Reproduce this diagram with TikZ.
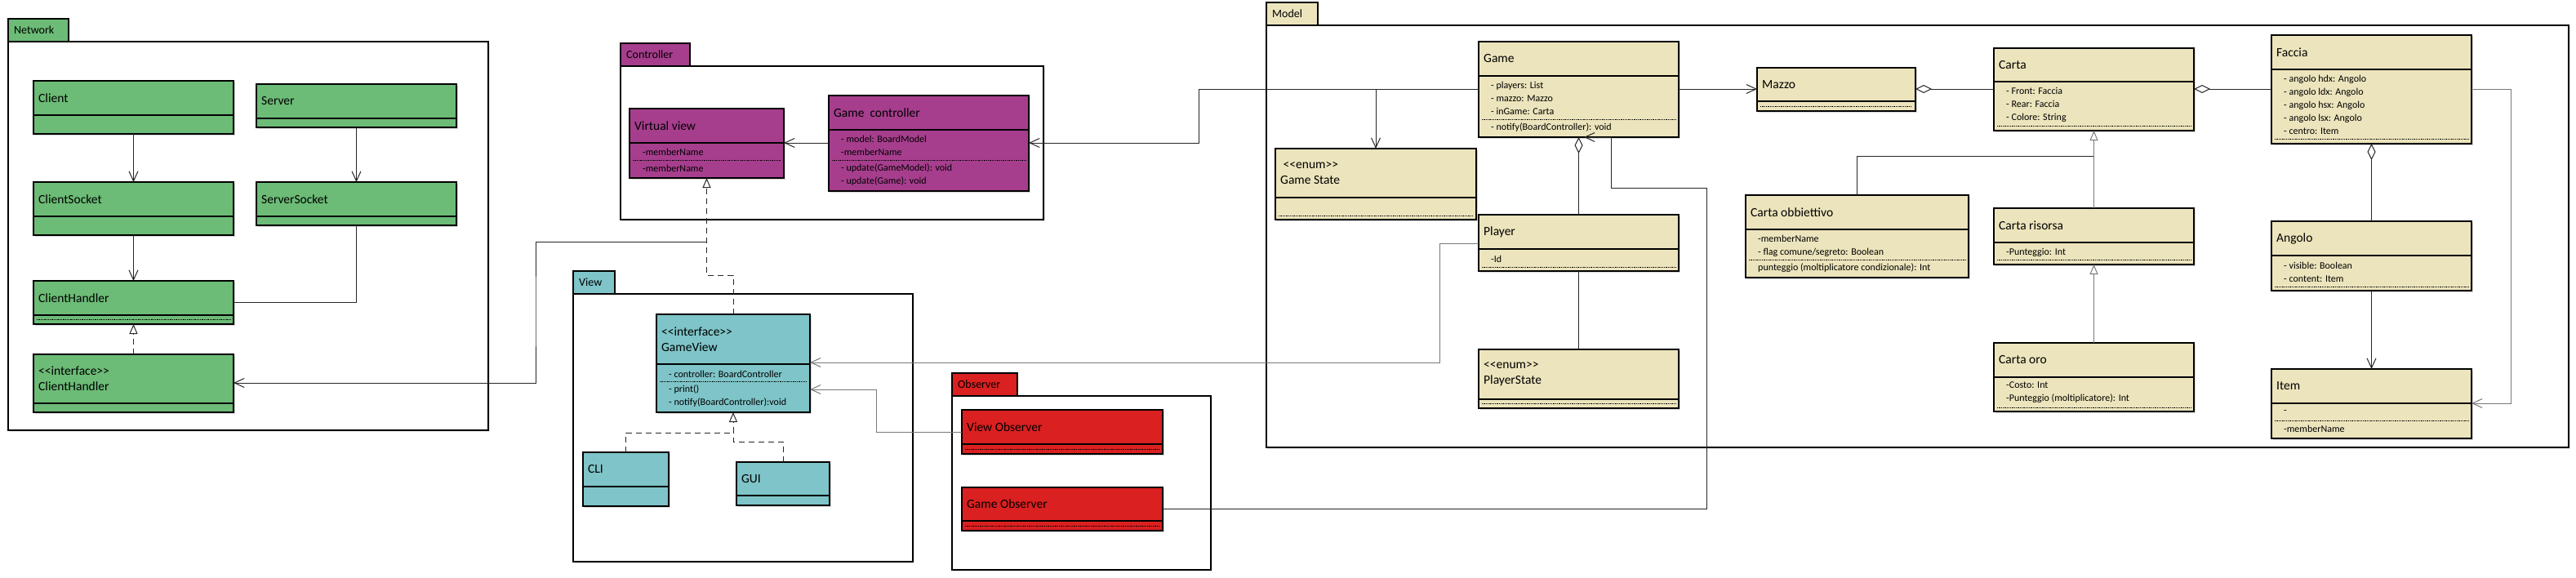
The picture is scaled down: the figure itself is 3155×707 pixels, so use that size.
\documentclass[tikz,border=0pt]{standalone}
\usepackage{fontspec}
\setmainfont{Carlito}
\usetikzlibrary{arrows.meta,calc,shadows}

\definecolor{netgreen}{RGB}{108,187,118}
\definecolor{ctrlpurple}{RGB}{166,62,141}
\definecolor{viewteal}{RGB}{126,196,200}
\definecolor{obsred}{RGB}{218,32,32}
\definecolor{modelbeige}{RGB}{236,228,188}
\definecolor{linegray}{RGB}{120,120,120}

% class box: name, colour style, left, top, right, bottom, divider, title
\newcommand{\umlclass}[8]{%
  \node[classbox,#2,minimum width={#5pt-#3pt},minimum height={#6pt-#4pt}] (#1) at ({(#3+#5)/2},{(#4+#6)/2}) {};
  \draw[sepline] (#1.west |- 0,#7) -- (#1.east |- 0,#7);
  \node[ctitle] (#1-t) at (#3+6,{(#4+#7)/2}) {#8};}
% dotted separator inside a class box
\newcommand{\umlsep}[2]{%
  \draw[dotsep] ($(#1.west |- 0,#2)+(4,0)$) -- ($(#1.east |- 0,#2)+(-4,0)$);}
% package: name, colour style, left, tab top, tab right, body top, right, bottom, label
\newcommand{\umlpackage}[9]{%
  \node[pkgtab,#2,minimum width={#5pt-#3pt},minimum height={#6pt-#4pt}] (#1-tab) at ({(#3+#5)/2},{(#4+#6)/2}) {};
  \node[pkgbody,minimum width={#7pt-#3pt},minimum height={#8pt-#6pt}] (#1) at ({(#3+#7)/2},{(#6+#8)/2}) {};
  \node[pkglabel] (#1-l) at (#3+7,{(#4+#6)/2}) {#9};}

\begin{document}
\begin{tikzpicture}[x=1pt,y=-1pt,
  classbox/.style={draw=black,line width=1.5pt,inner sep=0pt,outer sep=0pt,
    drop shadow={shadow xshift=2pt,shadow yshift=-2pt,opacity=.3}},
  net/.style={fill=netgreen},
  ctrl/.style={fill=ctrlpurple},
  view/.style={fill=viewteal},
  obs/.style={fill=obsred},
  model/.style={fill=modelbeige},
  sepline/.style={line width=1.5pt},
  dotsep/.style={line width=.8pt,dash pattern=on 1.3pt off 1pt},
  ctitle/.style={anchor=west,inner sep=0pt,align=left,font=\fontsize{15.5}{19}\selectfont},
  attr/.style={anchor=west,inner sep=0pt,align=left,font=\fontsize{12}{16}\selectfont},
  pkgtab/.style={draw,line width=1.5pt,inner sep=0pt,outer sep=0pt},
  pkgbody/.style={draw,line width=1.5pt,fill=white,inner sep=0pt,outer sep=0pt,
    drop shadow={shadow xshift=1.5pt,shadow yshift=-1.5pt,opacity=.2}},
  pkglabel/.style={anchor=west,inner sep=0pt,font=\fontsize{14}{16}\selectfont},
  plain/.style={line width=1pt,draw=black!85},
  assoc/.style={plain,-{Straight Barb[length=12pt,width=11pt]}},
  realize/.style={plain,dash pattern=on 7pt off 5pt,-{Triangle[length=12pt,width=10pt,fill=white]}},
  dashedline/.style={plain,dash pattern=on 7pt off 5pt},
  inherit/.style={plain,-{Triangle[length=12pt,width=10pt,fill=white]}},
  aggr/.style={plain,{Diamond[length=20pt,width=10pt,fill=white]}-}]
\useasboundingbox (0,0) rectangle (3155,707);

% packages
\umlpackage{network}{net}{10}{23}{84}{51}{598}{527}{Network}
\umlpackage{controller}{ctrl}{760}{53}{845}{81}{1278}{269}{Controller}
\umlpackage{model}{model}{1551}{3}{1614}{31}{3146}{548}{Model}
\umlpackage{view}{view}{702}{332}{753}{360}{1118}{688}{View}
\umlpackage{observer}{obs}{1166}{457}{1246}{485}{1483}{698}{Observer}

% network
\umlclass{client}{net}{41}{99}{286}{164}{141}{Client}
\umlclass{server}{net}{314}{103}{559}{156}{145}{Server}
\umlclass{clientsocket}{net}{41}{223}{286}{288}{265}{ClientSocket}
\umlclass{serversocket}{net}{314}{223}{559}{276}{265}{ServerSocket}
\umlclass{clienthandler}{net}{41}{344}{286}{397}{386}{ClientHandler}
\umlsep{clienthandler}{391}
\umlclass{iclienthandler}{net}{41}{434}{286}{505}{494}{<{}<interface>{}>\\ClientHandler}

% controller
\umlclass{virtualview}{ctrl}{771}{133}{960}{218}{175}{Virtual view}
\umlsep{virtualview}{196}
\node[attr] (virtualview-a) at (787,186) {-memberName};
\node[attr] (virtualview-m) at (787,206) {-memberName};
\umlclass{gamecontroller}{ctrl}{1015}{117}{1260}{234}{159}{Game\ \ controller}
\umlsep{gamecontroller}{196}
\node[attr] (gamecontroller-a) at (1030,178) {- model: BoardModel\\-memberName};
\node[attr] (gamecontroller-m) at (1030,214) {- update(GameModel): void\\- update(Game): void};

% view
\umlclass{gameview}{view}{804}{385}{992}{505}{446}{<{}<interface>{}>\\GameView}
\umlsep{gameview}{467}
\node[attr] (gameview-a) at (819,458) {- controller: BoardController};
\node[attr] (gameview-m) at (819,485) {- print()\\- notify(BoardController):void};
\umlclass{cli}{view}{714}{554}{819}{620}{596}{CLI}
\umlclass{gui}{view}{902}{566}{1016}{619}{607}{GUI}

% observer
\umlclass{viewobserver}{obs}{1178}{502}{1424}{556}{544}{View Observer}
\umlsep{viewobserver}{550}
\umlclass{gameobserver}{obs}{1178}{597}{1424}{650}{638}{Game Observer}
\umlsep{gameobserver}{644}

% model
\umlclass{game}{model}{1811}{51}{2056}{168}{93}{Game}
\umlsep{game}{146}
\node[attr] (game-a) at (1826,120) {- players: List\\- mazzo: Mazzo\\- inGame: Carta};
\node[attr] (game-m) at (1826,156) {- notify(BoardController): void};
\umlclass{gamestate}{model}{1562}{182}{1808}{269}{242}{\ <{}<enum>{}>\\Game State}
\umlsep{gamestate}{264}
\umlclass{player}{model}{1811}{263}{2056}{332}{305}{Player}
\umlsep{player}{327}
\node[attr] (player-a) at (1826,317) {-Id};
\umlclass{playerstate}{model}{1811}{428}{2056}{500}{489}{<{}<enum>{}>\\PlayerState}
\umlsep{playerstate}{494}
\umlclass{mazzo}{model}{2152}{83}{2346}{136}{124}{Mazzo}
\umlsep{mazzo}{130}
\umlclass{carta}{model}{2442}{59}{2687}{160}{100}{Carta}
\umlsep{carta}{154}
\node[attr] (carta-a) at (2457,128) {- Front: Faccia\\- Rear: Faccia\\- Colore: String};
\umlclass{cartaobb}{model}{2138}{239}{2411}{340}{281}{Carta obbiettivo}
\umlsep{cartaobb}{318}
\node[attr] (cartaobb-a) at (2153,301) {-memberName\\- flag comune/segreto: Boolean};
\node[attr] (cartaobb-m) at (2153,328) {punteggio (moltiplicatore condizionale): Int};
\umlclass{cartarisorsa}{model}{2442}{255}{2687}{324}{297}{Carta risorsa}
\umlsep{cartarisorsa}{318}
\node[attr] (cartarisorsa-a) at (2457,309) {-Punteggio: Int};
\umlclass{cartaoro}{model}{2442}{420}{2687}{504}{462}{Carta oro}
\umlsep{cartaoro}{499}
\node[attr] (cartaoro-a) at (2457,481) {-Costo: Int\\-Punteggio (moltiplicatore): Int};
\umlclass{faccia}{model}{2782}{43}{3027}{176}{85}{Faccia}
\umlsep{faccia}{170}
\node[attr] (faccia-a) at (2797,128) {- angolo hdx: Angolo\\- angolo ldx: Angolo\\- angolo hsx: Angolo\\- angolo lsx: Angolo\\- centro: Item};
\umlclass{angolo}{model}{2782}{271}{3027}{356}{313}{Angolo}
\umlsep{angolo}{351}
\node[attr] (angolo-a) at (2797,333) {- visible: Boolean\\- content: Item};
\umlclass{item}{model}{2782}{452}{3027}{537}{494}{Item}
\umlsep{item}{515}
\node[attr] (item-a) at (2797,505) {-};
\node[attr] (item-m) at (2797,525) {-memberName};

% connectors
\coordinate (vvjoin) at (866,296);
\draw[assoc] (client) -- (clientsocket);
\draw[assoc] (clientsocket) -- (clienthandler);
\draw[assoc] (server) -- (serversocket);
\draw[plain] (serversocket.south) |- (clienthandler.east |- 0,370);
\draw[realize] (iclienthandler) -- (clienthandler);
\draw[assoc] (vvjoin) -| (656,380) |- (iclienthandler.east |- 0,469);
\draw[assoc] (gamecontroller.west |- 0,175) -- (virtualview.east |- 0,175);
\draw[realize] (gameview.north) -- ++(0,-48) -| (virtualview.south);
\draw[realize] (cli.north) |- (gameview.south |- 0,530) -- (gameview.south);
\draw[dashedline] (gui.north) |- (gameview.south |- 0,541) -- (gameview.south |- 0,530);
\draw[assoc] (game.west |- 0,109) -- (1468,109) |- (gamecontroller.east |- 0,175);
\draw[assoc] (game.west |- 0,109) -| (gamestate.north);
\draw[assoc] (game.east |- 0,109) -- (mazzo.west |- 0,109);
\draw[aggr] (mazzo.east |- 0,109) -- (carta.west |- 0,109);
\draw[aggr] (carta.east |- 0,109) -- (faccia.west |- 0,109);
\draw[aggr] (faccia.south) -- (angolo.north);
\draw[assoc] (angolo) -- (item);
\draw[assoc,draw=linegray] (faccia.east |- 0,109) -| (3075,300) |- (item.east |- 0,494);
\draw[aggr] (game.south) -- (player.north);
\draw[plain] (player) -- (playerstate);
\draw[assoc,draw=linegray] (player.west |- 0,298) -| (1763,400) |- (gameview.east |- 0,444);
\draw[assoc,draw=linegray] (viewobserver.west |- 0,529) -| (1073,500) |- (gameview.east |- 0,477);
\draw[assoc] (gameobserver.east |- 0,623) -| (2090,230) -| (game.south -| 1973,0) -- (game.south -| 1940,0);
\draw[plain] (cartaobb.north) |- (carta.south |- 0,191);
\draw[inherit,draw=linegray] (cartarisorsa) -- (carta);
\draw[inherit,draw=linegray] (cartaoro) -- (cartarisorsa);
\end{tikzpicture}
\end{document}
